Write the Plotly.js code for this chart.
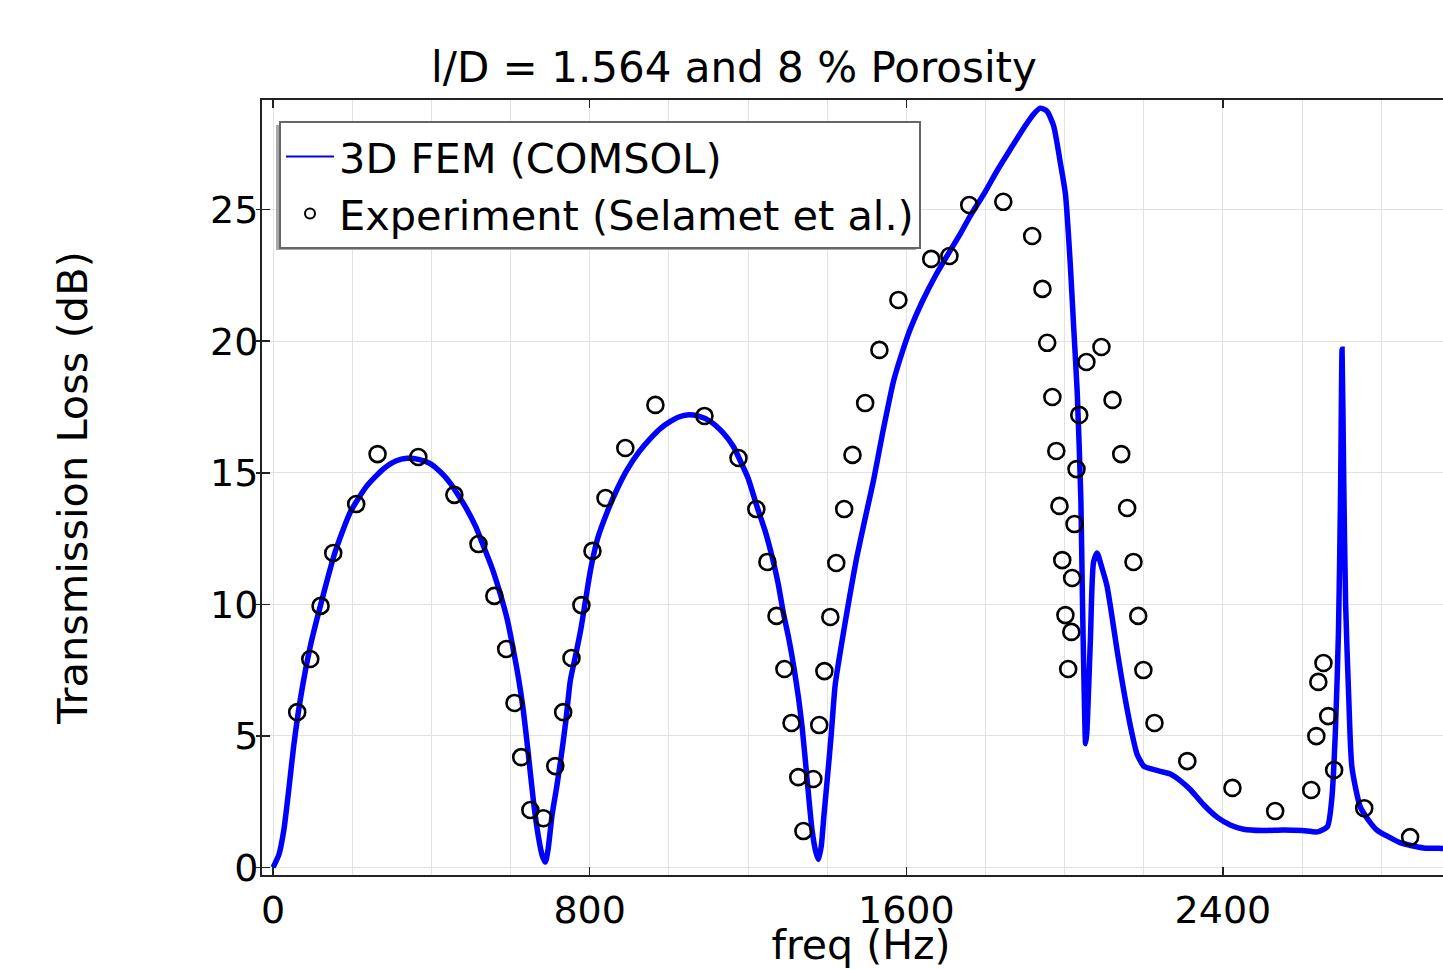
<!DOCTYPE html>
<html>
<head>
<meta charset="utf-8">
<script src="https://cdn.plot.ly/plotly-3.0.1.min.js"></script>
<style>
  html, body { margin: 0; padding: 0; overflow: hidden; background: #fff; }
  #chart { width: 1460px; height: 969px; }
</style>
</head>
<body>
<div id="chart"></div>
<script>
// ---- Data ----
// 3D FEM (COMSOL) curve: frequency (Hz) and transmission loss (dB)
const femFreq = [0,15,27,40,52,69,94,124,157,195,237,279,310,338,370,397,425,448,470,490,512,532,554,574,592,608,620,632,645,658,670,680,688,695,705,716,726,740,751,765,777,790,802,820,844,870,894,925,953,980,1004,1025,1046,1075,1105,1135,1163,1176,1200,1223,1243,1261,1276,1289,1303,1316,1328,1337,1349,1362,1372,1378,1385,1392,1400,1410,1420,1430,1442,1458,1475,1495,1517,1540,1568,1590,1611,1640,1674,1709,1737,1759,1800,1830,1863,1901,1920,1938,1955,1972,1989,2002,2014,2023,2032,2041,2045,2049,2053,2056,2065,2073,2082,2094,2107,2120,2132,2145,2158,2170,2183,2200,2217,2242,2267,2292,2318,2350,2386,2420,2452,2500,2553,2600,2639,2664,2675,2684,2692,2697,2701,2705,2710,2718,2726,2747,2770,2789,2820,2849,2907,2957,3000];
const femTL = [0,0.5,1.4,3.0,4.6,6.4,8.4,10.2,12.0,13.5,14.5,15.15,15.45,15.55,15.5,15.35,15.0,14.6,14.1,13.6,12.95,12.2,11.35,10.4,9.4,8.2,7.2,6.0,4.3,2.5,1.2,0.45,0.2,0.7,2.0,3.0,4.0,5.6,7.1,8.1,9.0,10.2,11.3,12.5,13.5,14.4,15.1,15.8,16.3,16.7,16.95,17.12,17.2,17.15,16.95,16.55,16.0,15.6,14.8,13.7,12.8,11.8,10.8,9.7,8.7,7.6,6.4,5.3,3.4,1.4,0.55,0.3,0.8,2.0,3.3,5.0,6.9,7.9,9.0,10.4,11.8,13.2,14.7,16.5,18.5,19.6,20.5,21.5,22.5,23.4,24.1,24.7,25.7,26.5,27.3,28.2,28.6,28.86,28.75,28.2,26.8,25.6,23.0,20.5,18.0,14.0,10.2,7.0,4.7,5.1,8.6,11.6,11.95,11.4,10.7,9.5,8.3,7.1,6.0,5.1,4.3,3.85,3.75,3.65,3.55,3.3,2.95,2.4,1.9,1.6,1.45,1.4,1.42,1.4,1.35,1.55,2.6,5.1,9.0,14.0,19.7,15.0,10.0,6.4,3.8,2.3,1.75,1.42,1.15,0.93,0.74,0.72,0.7];

// Experiment (Selamet et al.) points
const expFreq = [61,94,120,152,210,264,367,458,519,559,589,610,627,650,683,713,733,754,779,807,840,890,966,1090,1176,1221,1249,1272,1292,1310,1327,1340,1365,1380,1393,1408,1423,1443,1464,1496,1532,1580,1663,1709,1759,1845,1918,1944,1956,1969,1979,1987,1994,2002,2009,2055,2037,2030,2025,2019,2017,2093,2121,2143,2158,2174,2186,2199,2227,2310,2424,2532,2623,2636,2641,2654,2666,2681,2757,2873];
const expTL = [5.9,7.92,9.94,11.95,13.81,15.71,15.6,14.16,12.29,10.32,8.3,6.25,4.19,2.18,1.87,3.85,5.9,7.96,9.97,12.03,14.04,15.94,17.58,17.16,15.56,13.62,11.61,9.56,7.54,5.49,3.43,1.38,3.36,5.41,7.46,9.52,11.57,13.62,15.68,17.65,19.67,21.57,23.13,23.24,25.18,25.3,24.0,21.99,19.94,17.88,15.83,13.74,11.68,9.59,7.54,19.21,17.2,15.14,13.05,11.0,8.95,19.78,17.77,15.71,13.66,11.61,9.56,7.5,5.49,4.04,3.02,2.14,2.94,4.99,7.05,7.77,5.75,3.7,2.25,1.15];

// Labels
const chartTitle = "l/D = 1.564 and 8 % Porosity";
const xTitle = "freq (Hz)";
const yTitle = "Transmission Loss (dB)";
const femName = "3D FEM (COMSOL)";
const expName = "Experiment (Selamet et al.)";

const FONT = "DejaVu Sans, Liberation Sans, sans-serif";
const axisColor = "#222";
const gridColor = "#e2e2e2";
const lineBlue = "#0000ff";

const traces = [
  // legend samples only (a single empty point, nothing is drawn in the plot)
  { x: [null], y: [null], name: femName, type: "scatter", mode: "lines",
    line: { color: lineBlue, width: 2 }, hoverinfo: "skip", legendrank: 1 },
  { x: [null], y: [null], name: expName, type: "scatter", mode: "markers",
    marker: { symbol: "circle-open", size: 10, color: "#000", line: { width: 2, color: "#000" } },
    hoverinfo: "skip", legendrank: 2 },
  // the data
  { x: femFreq, y: femTL, name: femName, type: "scatter", mode: "lines", showlegend: false,
    line: { color: lineBlue, width: 5.5, shape: "spline", smoothing: 0.6 } },
  { x: expFreq, y: expTL, name: expName, type: "scatter", mode: "markers", showlegend: false,
    marker: { symbol: "circle-open", size: 16, color: "#000", line: { width: 2.6, color: "#000" } } },
  { x: [], y: [], yaxis: "y2", showlegend: false, hoverinfo: "skip", type: "scatter", mode: "lines" }
];

const yRange = [-0.29, 29.17];

const layout = {
  width: 1460, height: 969,
  margin: { l: 262, r: 0, t: 100, b: 94, pad: 0 },
  paper_bgcolor: "#fff", plot_bgcolor: "#fff",
  font: { family: FONT, color: "#000", size: 38 },
  showlegend: true,
  title: {
    text: chartTitle, font: { size: 42, family: FONT, color: "#000" },
    xref: "container", yref: "container", x: 734 / 1460, xanchor: "center",
    y: 1 - 67 / 969, yanchor: "middle"
  },
  xaxis: {
    range: [-28, 2999], tick0: 0, dtick: 800,
    ticks: "inside", ticklen: 8, tickwidth: 1.5, tickcolor: axisColor,
    showline: true, linecolor: axisColor, linewidth: 2, mirror: "ticks",
    showgrid: true, gridcolor: gridColor, gridwidth: 1, zeroline: false,
    minor: { tick0: 0, dtick: 200, showgrid: true, gridcolor: gridColor, gridwidth: 1, ticks: "" },
    tickfont: { size: 38, family: FONT, color: "#000" },
    ticklabelstandoff: 0,
    automargin: false,
    title: { text: xTitle, font: { size: 41, family: FONT, color: "#000" }, standoff: 16 }
  },
  yaxis: {
    range: yRange, tick0: 0, dtick: 5,
    ticks: "inside", ticklen: 8, tickwidth: 1.5, tickcolor: axisColor,
    showline: true, linecolor: axisColor, linewidth: 2, mirror: "ticks",
    showgrid: true, gridcolor: gridColor, gridwidth: 1, zeroline: false,
    tickfont: { size: 38, family: FONT, color: "#000" },
    ticklabelstandoff: -6,
    automargin: false,
    title: { text: yTitle, font: { size: 41.5, family: FONT, color: "#000" }, standoff: 110 }
  },
  yaxis2: {
    overlaying: "y", range: yRange, tick0: 0, dtick: 5, side: "left",
    ticks: "outside", ticklen: 5, tickwidth: 1.5, tickcolor: axisColor,
    showticklabels: false, showgrid: false, showline: false, zeroline: false
  },
  legend: {
    x: (279 - 262) / 1198, y: (875 - 121) / 775, xanchor: "left", yanchor: "top",
    bgcolor: "#fff", bordercolor: "#666", borderwidth: 2,
    font: { size: 41.5, family: FONT, color: "#000" },
    itemsizing: "trace", itemwidth: 48, tracegroupgap: 0
  },
  shapes: [
    { type: "rect", xref: "paper", yref: "paper", layer: "above",
      x0: (276 - 262) / 1198, x1: (916 - 262) / 1198,
      y0: (875 - 250) / 775, y1: (875 - 125) / 775,
      fillcolor: "#a8a8a8", line: { width: 0 } }
  ]
};

Plotly.newPlot("chart", traces, layout, { displayModeBar: false, staticPlot: true });
</script>
</body>
</html>
